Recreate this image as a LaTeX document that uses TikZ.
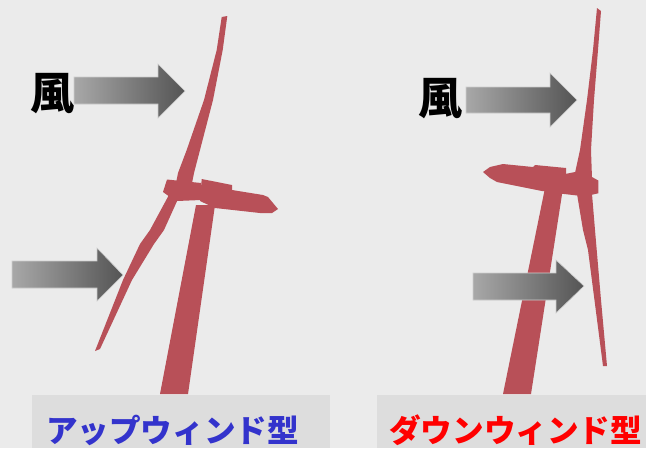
\documentclass[tikz,border=0pt]{standalone}
\usepackage{fontspec}
\newfontfamily\jpfont{Noto Sans CJK JP}
\definecolor{bg}{RGB}{235,235,235}
\definecolor{boxgray}{RGB}{221,221,221}
\definecolor{turbine}{RGB}{184,80,88}
\definecolor{arrowlight}{RGB}{168,168,168}
\definecolor{arrowdark}{RGB}{84,84,84}
\definecolor{arrowedge}{RGB}{205,205,205}
\definecolor{upblue}{RGB}{51,51,204}
\definecolor{downred}{RGB}{255,0,0}

% wind arrow: shaft x-start, head base x, tip x, shaft top/bottom, head top/bottom, tip y
\newcommand{\gustarrow}[8]{%
  \shade[windarrow] (#1,#4) -- (#2,#4) -- (#2,#6) -- (#3,#8) -- (#2,#7) -- (#2,#5) -- (#1,#5) -- cycle;}

\begin{document}
\begin{tikzpicture}[x=1pt,y=-1pt,
  part/.style={fill=turbine},
  windarrow/.style={left color=arrowlight,right color=arrowdark,draw=arrowedge,line width=0.6pt},
  labelbox/.style={fill=boxgray},
  windtext/.style={font=\jpfont\bfseries\fontsize{44}{44}\selectfont,inner sep=0pt},
  typetext/.style={font=\jpfont\bfseries\fontsize{31.6}{32}\selectfont,inner sep=0pt,anchor=west}]

\useasboundingbox (0,0) rectangle (646,448);
\fill[bg] (0,0) rectangle (646,448);

% ---- upwind turbine ----
\fill[part] (160,394) -- (188,394) -- (215,205) -- (196,205) -- cycle; % tower
\fill[part] (201.7,179) -- (232,185) -- (232,190) -- (263,195) -- (268,197) -- (278,209)
  -- (272,213) -- (260,213) -- (215,208) -- (200,201) -- cycle; % nacelle
\fill[part] (167,179.5) -- (201,183) -- (201,200) -- (177,201) -- (170,197) -- (163,192) -- cycle; % hub
\fill[part] (221.7,17) -- (227.3,16) -- (222.7,50) -- (213,100) -- (200,150) -- (194,173) -- (192,183)
  -- (176,183) -- (178,173) -- (186.7,150) -- (204,100) -- (216.7,50) -- cycle; % upper blade
\fill[part] (170,193) -- (150,230) -- (140,244) -- (123,280) -- (95,351) -- (100,349) -- (132,280)
  -- (154,244) -- (164,230) -- (178,199) -- cycle; % lower blade

% ---- downwind turbine ----
\fill[part] (503,394) -- (531,394) -- (563,188) -- (545,188) -- cycle; % tower
\fill[part] (483,172) -- (490,167) -- (503,164) -- (533,167) -- (535,165) -- (566,168) -- (566,176)
  -- (560,193) -- (542,191) -- (497,182) -- (490,178) -- cycle; % nacelle
\fill[part] (565,174) -- (575,172) -- (592,177) -- (598.3,180.5) -- (598.3,193.3) -- (593,194.5)
  -- (577,195.5) -- (560,193.5) -- cycle; % hub
\fill[part] (597,8) -- (601,11) -- (598,50) -- (594,100) -- (591,150) -- (592,178)
  -- (574,178) -- (575,173) -- (580,150) -- (587,100) -- (593,50) -- cycle; % upper blade
\fill[part] (577,194) -- (583,230) -- (588,250) -- (603,366) -- (607,366) -- (601,300) -- (595,230)
  -- (592,194) -- cycle; % lower blade

% ---- wind arrows ----
\gustarrow{74}{158}{185}{77}{104}{64}{118}{91}
\gustarrow{12}{97}{123}{261}{288}{248}{301}{275}
\gustarrow{466}{550}{577}{87}{113}{73}{127}{100}
\gustarrow{473}{556}{584}{273}{300}{260}{313}{286}

\node[windtext] (windL) at (52.5,94) {風};
\node[windtext] (windR) at (440,98.5) {風};

% ---- type labels ----
\fill[labelbox] (32,395) rectangle (330,448);
\fill[labelbox] (377,395) rectangle (646,448);
\node[typetext,text=upblue] (upwind) at (46,430) {アップウィンド型};
\node[typetext,text=downred] (downwind) at (389,430) {ダウンウィンド型};
\end{tikzpicture}
\end{document}
